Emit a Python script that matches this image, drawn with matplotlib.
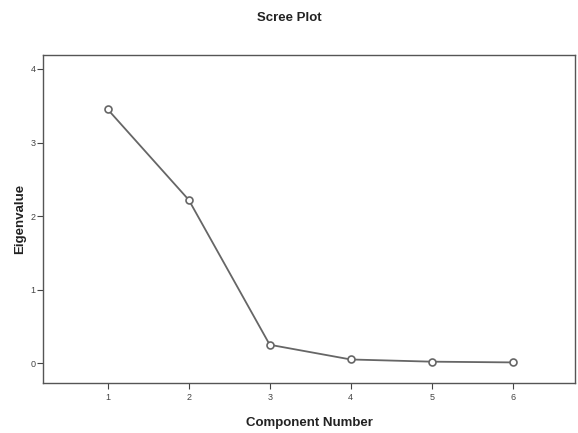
import matplotlib
matplotlib.use("Agg")
import matplotlib.pyplot as plt

components = [1, 2, 3, 4, 5, 6]
eigenvalues = [3.45, 2.22, 0.25, 0.05, 0.02, 0.01]
x_ticks = [1, 2, 3, 4, 5, 6]
y_ticks = [0, 1, 2, 3, 4]

plt.rcParams['font.family'] = ['Liberation Sans', 'DejaVu Sans']

fig = plt.figure(figsize=(5.78, 4.33), dpi=100)
ax = fig.add_axes([43/578, 50/433, 532/578, 328/433])

ax.plot(components, eigenvalues, color='#666666', linewidth=1.3,
        marker='o', markersize=5, markerfacecolor='white',
        markeredgecolor='#666666', markeredgewidth=1.2)

ax.set_xlim(0.2, 6.77)
ax.set_ylim(-0.27, 4.19)
ax.set_xticks(x_ticks)
ax.set_yticks(y_ticks)
ax.tick_params(axis='both', direction='out', length=4, width=0.8,
               colors='#444444', labelsize=6.5)
ax.tick_params(axis='y', pad=1.5)
ax.tick_params(axis='x', pad=3)
for s in ax.spines.values():
    s.set_color('#555555')
    s.set_linewidth(1.0)

ax.set_xlabel('Component Number', fontsize=9.5, fontweight='bold',
              color='#222222', labelpad=11)
ax.set_ylabel('Eigenvalue', fontsize=9.5, fontweight='bold',
              color='#222222', labelpad=3)
fig.text(0.5, 1 - 18/433, 'Scree Plot', ha='center', va='center',
         fontsize=9.5, fontweight='bold', color='#222222')

fig.savefig('out.png', dpi=100)
